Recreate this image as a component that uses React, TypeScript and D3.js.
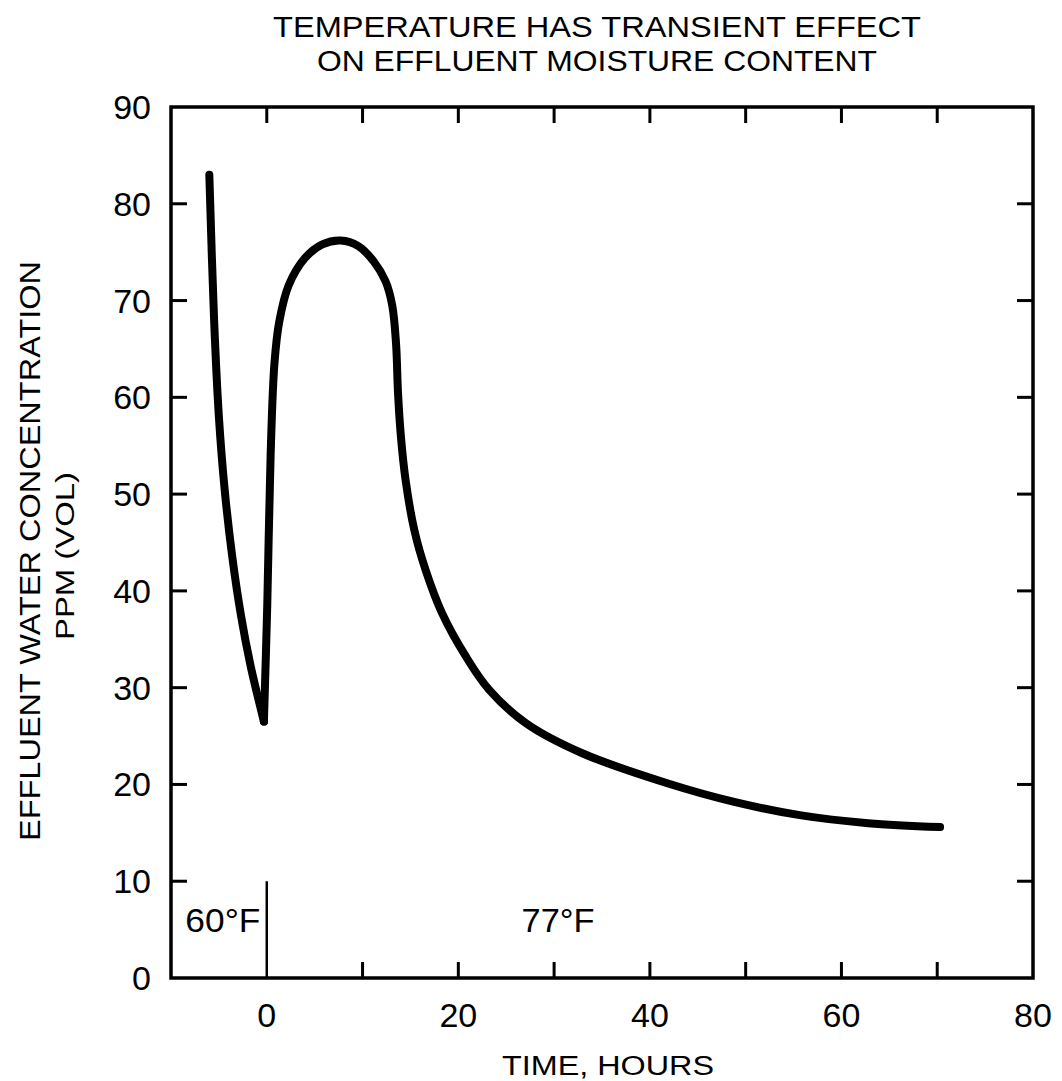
import React from "react";
import * as d3 from "d3";

const titleLines = ["TEMPERATURE HAS TRANSIENT EFFECT", "ON EFFLUENT MOISTURE CONTENT"];
const yTitleLines = ["EFFLUENT WATER CONCENTRATION", "PPM (VOL)"];
const xTitle = "TIME, HOURS";
const xTickLabels = [0, 20, 40, 60, 80];
const yTickLabels = [0, 10, 20, 30, 40, 50, 60, 70, 80, 90];
const xMinorTicks = [0, 10, 20, 30, 40, 50, 60, 70];
const yMinorTicks = [10, 20, 30, 40, 50, 60, 70, 80];
const zoneLabels = ["60°F", "77°F"];
const zoneLabelTimes = [-8.5, 26.6];
const zoneBoundaryTime = 0;
const zoneBoundaryTop = 10;

// 60°F period (falling branch)
const coolTime = [-6.0, -5.5, -5.0, -4.4, -3.6, -2.7, -1.7, -0.8, -0.3];
const coolPpm = [83.0, 68.0, 58.0, 50.5, 43.5, 37.5, 32.3, 28.5, 26.5];
// 77°F period
const warmTime = [-0.3, 0.05, 0.4, 0.8, 1.3, 2.3, 4.0, 5.8, 7.7, 9.6, 11.2, 12.4, 13.1, 13.5, 13.7, 14.0, 14.5, 15.4, 16.6, 18.3, 20.8, 23.2, 27.1, 33.0, 41.9, 48.8, 55.8, 62.8, 70.3];
const warmPpm = [26.5, 38.5, 54.0, 63.5, 67.8, 71.6, 74.4, 75.8, 76.2, 75.6, 74.0, 72.0, 69.5, 65.5, 60.5, 56.0, 51.4, 46.3, 42.1, 37.7, 33.2, 29.8, 26.3, 23.2, 20.1, 18.2, 16.8, 16.0, 15.6];

const FONT = "'Liberation Sans', Arial, sans-serif";

export default function App() {
  const W = 1062, H = 1081;
  const x = d3.scaleLinear().domain([-10, 80]).range([171, 1033]);
  const y = d3.scaleLinear().domain([0, 90]).range([978, 107]);
  const line = d3
    .line<[number, number]>()
    .x((d) => x(d[0]))
    .y((d) => y(d[1]))
    .curve(d3.curveCatmullRom.alpha(0.5));
  const cool = coolTime.map((t, i) => [t, coolPpm[i]] as [number, number]);
  const warm = warmTime.map((t, i) => [t, warmPpm[i]] as [number, number]);
  const [x0, x1] = x.range();
  const [y0, y1] = y.range();
  const tl = 16;
  return (
    <svg width={W} height={H} style={{ display: "block", position: "absolute", left: 0, top: 0, background: "#fff" }}>
      <rect x={0} y={0} width={W} height={H} fill="#fff" />
      {/* title */}
      <text x={597} y={37} textAnchor="middle" fontFamily={FONT} fontSize={29} textLength={648} lengthAdjust="spacingAndGlyphs">{titleLines[0]}</text>
      <text x={597} y={71} textAnchor="middle" fontFamily={FONT} fontSize={29} textLength={560} lengthAdjust="spacingAndGlyphs">{titleLines[1]}</text>
      {/* frame */}
      <rect x={x0} y={y1} width={x1 - x0} height={y0 - y1} fill="none" stroke="#000" strokeWidth={3.5} />
      {/* ticks */}
      {xMinorTicks.map((t) => (
        <g key={"xt" + t}>
          {t !== zoneBoundaryTime && <line x1={x(t)} x2={x(t)} y1={y0} y2={y0 - tl} stroke="#000" strokeWidth={3} />}
          <line x1={x(t)} x2={x(t)} y1={y1} y2={y1 + tl} stroke="#000" strokeWidth={3} />
        </g>
      ))}
      {yMinorTicks.map((v) => (
        <g key={"yt" + v}>
          <line x1={x0} x2={x0 + tl} y1={y(v)} y2={y(v)} stroke="#000" strokeWidth={3} />
          <line x1={x1} x2={x1 - tl} y1={y(v)} y2={y(v)} stroke="#000" strokeWidth={3} />
        </g>
      ))}
      {/* zone divider */}
      <line x1={x(zoneBoundaryTime)} x2={x(zoneBoundaryTime)} y1={y0} y2={y(zoneBoundaryTop)} stroke="#000" strokeWidth={2.5} />
      {zoneLabels.map((s, i) => (
        <text key={s} x={x(zoneLabelTimes[i])} y={932} fontFamily={FONT} fontSize={33} textLength={i === 0 ? 75 : 73} lengthAdjust="spacingAndGlyphs">{s}</text>
      ))}
      {/* tick labels */}
      {xTickLabels.map((t) => (
        <text key={"xl" + t} x={x(t)} y={1027} textAnchor="middle" fontFamily={FONT} fontSize={34}>{t}</text>
      ))}
      {yTickLabels.map((v) => (
        <text key={"yl" + v} x={151} y={y(v) + 12} textAnchor="end" fontFamily={FONT} fontSize={34}>{v}</text>
      ))}
      {/* axis titles */}
      <text x={608} y={1075} textAnchor="middle" fontFamily={FONT} fontSize={27} textLength={212} lengthAdjust="spacingAndGlyphs">{xTitle}</text>
      <text transform={`translate(40,551) rotate(-90)`} textAnchor="middle" fontFamily={FONT} fontSize={29} textLength={580} lengthAdjust="spacingAndGlyphs">{yTitleLines[0]}</text>
      <text transform={`translate(74,556) rotate(-90)`} textAnchor="middle" fontFamily={FONT} fontSize={26} textLength={168} lengthAdjust="spacingAndGlyphs">{yTitleLines[1]}</text>
      {/* curve */}
      <path d={line(cool) || ""} fill="none" stroke="#000" strokeWidth={8} strokeLinecap="round" strokeLinejoin="round" />
      <path d={line(warm) || ""} fill="none" stroke="#000" strokeWidth={8} strokeLinecap="round" strokeLinejoin="round" />
    </svg>
  );
}
